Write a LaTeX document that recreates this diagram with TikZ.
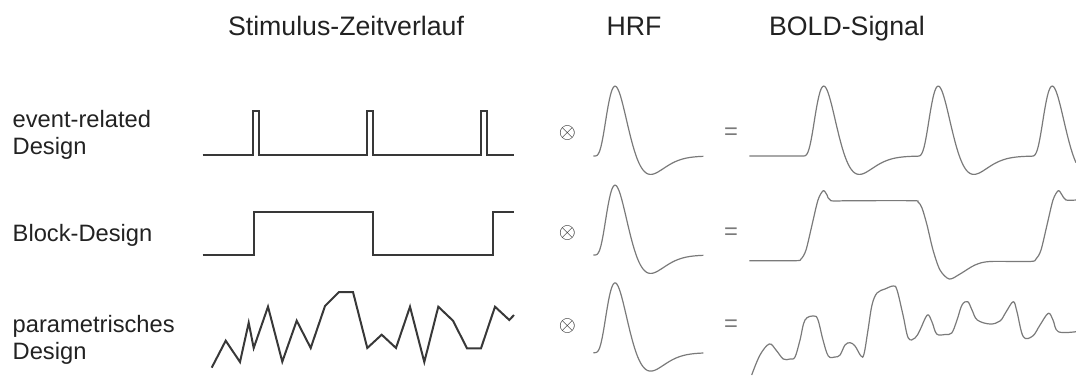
\documentclass[tikz,border=0pt]{standalone}
\usepackage{fontspec}
\setmainfont{Liberation Sans}
\usetikzlibrary{positioning}

\definecolor{ink}{HTML}{222222}
\definecolor{curve}{HTML}{7A7A7A}

\begin{document}
\begin{tikzpicture}[x=0.5pt, y=-0.5pt,
    title/.style = {anchor=base, inner sep=0, text=ink, font=\fontsize{13.35}{16}\selectfont},
    rowlabel/.style = {anchor=base west, inner sep=0, align=left, text=ink, font=\fontsize{11.85}{13.5}\selectfont},
    op/.style = {inner sep=0, text=ink},
    stim/.style = {draw=ink!90, line width=1pt, line join=miter},
    bold/.style = {draw=curve, line width=0.6pt},
    declare function = {
        gam(\t,\k,\c) = exp(\k*ln(max(\t,0.01)) - max(\t,0.01) - \c);
        hrf(\t) = (\t>0)*(gam(\t,5,4.7875) - 0.48*gam(\t,12,19.987));
    }]
    \useasboundingbox (0,0) rectangle (1076,376);

    % column heads
    \node[title] (stimtitle) at (346,35) {Stimulus-Zeitverlauf};
    \node[title] (hrftitle) at (634,35) {HRF};
    \node[title] (boldtitle) at (847,35) {BOLD-Signal};

    % row labels (base = last line)
    \node[rowlabel] (event) at (12.3,154.3) {event-related\\Design};
    \node[rowlabel] (block) at (12.3,241) {Block-Design};
    \node[rowlabel] (param) at (12.3,359.3) {parametrisches\\Design};

    % stimulus time courses
    \draw[stim] (202.7,155) -- (253.3,155) |- (259.3,111) -- (259.3,155)
        -- (367.3,155) |- (373.3,111) -- (373.3,155)
        -- (481,155) |- (486.7,111) -- (486.7,155) -- (514,155);
    \draw[stim] (202.7,254.7) -- (254,254.7) |- (372.7,212) -- (372.7,254.7)
        -- (492.7,254.7) |- (514,212);
    \draw[stim] (211.7,367.7) -- (225.7,340.7) -- (240,362) -- (248.7,322.7)
        -- (253.7,348) -- (268,306.7) -- (282.3,361.7) -- (296.7,320.7)
        -- (310.7,348) -- (325,306) -- (339,292) -- (353,292) -- (367.3,348)
        -- (381.7,334.7) -- (396,348) -- (410,306.7) -- (424.3,362)
        -- (438.3,306.7) -- (453,320.7) -- (467,348.3) -- (481,348.3)
        -- (495,306.7) -- (509.3,320) -- (514,315);

    % convolution and result signs
    \foreach \r/\y in {1/133.3, 2/233.3, 3/326} {
        \node[op, font=\fontsize{10.5}{12}\selectfont] (conv\r) at (567.3,\y) {$\otimes$};
        \node[op, text=curve, font=\fontsize{11.85}{14}\selectfont] (eq\r) at (731,\y) {=};
    }

    % HRF
    \foreach \y in {156, 255, 352.7}
        \draw[bold] plot[domain=0.02:25, samples=90]
            ({593.3+4.4*\x}, {\y-402*hrf(\x)});

    % BOLD: event-related
    \draw[bold] plot[domain=749.3:1076, samples=330]
        (\x, {156-402*(hrf((\x-802)/4.4)+hrf((\x-916.5)/4.4)+hrf((\x-1030.5)/4.4))});

    % BOLD: block
    \draw[bold] plot[smooth, tension=0.5] coordinates {
        (749.3,260.7) (795,260.7) (801,259) (806,250) (812,225) (818,200)
        (823.3,190.7) (827,195) (831,200.7) (850,200.7) (912,200.7) (918,202)
        (922,208) (927,225) (933,250) (940,270) (949.3,279) (960,274) (975,265)
        (990,261.5) (1030,261.5) (1036,259) (1041,250) (1047,225) (1053,200)
        (1058.3,190.7) (1062,195) (1066,200) (1076,200)};

    % BOLD: parametric
    \draw[bold] plot[smooth, tension=0.6] coordinates {
        (751.7,375) (760,355) (769.3,344) (776,350) (783.3,359) (790,359)
        (795,357) (800,340) (805,320) (814,316) (818,320) (823,340) (828.3,356)
        (835,357) (840,355) (845,345) (850,342.7) (855,346) (861,356) (864,354)
        (868,330) (872,305) (877,293) (885,289) (893.3,286) (897,290) (903,315)
        (908.3,338) (915,338) (920,330) (927.3,315) (932,322) (936.7,334)
        (945,334.5) (951.7,333) (957,320) (962,305) (967.7,301.7) (972,310)
        (977.3,320) (990,324) (1000,321) (1006,312) (1013.3,301.7) (1017,312)
        (1023.3,336.7) (1032.7,336) (1040,325) (1048.3,313.3) (1053,320)
        (1058.3,331.7) (1076,331.7)};
\end{tikzpicture}
\end{document}
